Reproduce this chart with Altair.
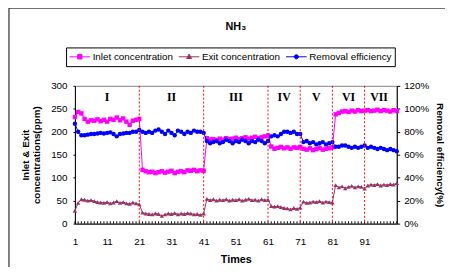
import altair as alt
import pandas as pd

# ---------------- data ----------------
times = list(range(1, 102))

inlet = [232, 243, 240, 228, 222, 225, 224, 227, 223, 226, 222, 228, 226, 231, 225, 229, 222, 215, 224, 226, 228,
         117, 114, 112, 113, 110, 112, 114, 111, 113, 115, 110, 113, 114, 112, 116, 115, 117, 114, 116, 115,
         186, 183, 184, 182, 185, 183, 186, 184, 185, 187, 184, 186, 188, 185, 187, 189, 186, 188, 190, 192,
         168, 163, 165, 167, 164, 166, 163, 166, 165, 167,
         163, 161, 164, 160, 162, 165, 161, 163, 164, 166,
         238, 241, 244, 245, 243, 246, 244, 247, 245, 246,
         247, 245, 246, 248, 245, 247, 246, 244, 247, 245]

exit_conc = [28, 45, 53, 52, 50, 51, 49, 47, 46, 45, 47, 44, 46, 49, 45, 47, 44, 43, 46, 44, 42,
             24, 22, 21, 20, 22, 21, 17, 20, 22, 21, 23, 20, 22, 21, 23, 22, 20, 21, 19, 22,
             54, 51, 53, 50, 52, 51, 53, 50, 52, 51, 53, 50, 52, 54, 51, 52, 50, 53, 51, 52,
             38, 37, 38, 36, 34, 33, 31, 34, 32, 35,
             48, 45, 46, 48, 47, 49, 46, 48, 47, 46,
             84, 79, 81, 77, 80, 82, 79, 81, 80, 76,
             83, 85, 84, 86, 83, 85, 84, 86, 85, 88]

efficiency = [0.87, 0.80, 0.77, 0.77, 0.775, 0.78, 0.78, 0.785, 0.79, 0.785, 0.79, 0.795, 0.78, 0.76, 0.78, 0.785, 0.79, 0.79, 0.80, 0.80, 0.815,
              0.80, 0.79, 0.80, 0.79, 0.81, 0.82, 0.80, 0.78, 0.81, 0.79, 0.77, 0.81, 0.80, 0.78, 0.80, 0.79, 0.81, 0.80, 0.80, 0.79,
              0.72, 0.70, 0.71, 0.72, 0.70, 0.71, 0.73, 0.72, 0.70, 0.72, 0.71, 0.73, 0.72, 0.70, 0.72, 0.71, 0.73, 0.72, 0.70, 0.72,
              0.76, 0.77, 0.76, 0.78, 0.80, 0.80, 0.79, 0.80, 0.78, 0.78,
              0.71, 0.72, 0.70, 0.71, 0.69, 0.70, 0.71, 0.69, 0.70, 0.71,
              0.67, 0.67, 0.68, 0.68, 0.67, 0.66, 0.67, 0.66, 0.67, 0.68,
              0.66, 0.67, 0.66, 0.65, 0.66, 0.65, 0.64, 0.65, 0.64, 0.63]

series_names = ["Inlet concentration", "Exit concentration", "Removal efficiency"]
series_colors = ["#FF00FF", "#993366", "#0000FF"]
series_shapes = ["square", "triangle-up", "circle"]
# legend symbols: a short line with the series marker on it
legend_paths = [
    "M-1,0H1M-0.21,-0.21H0.21V0.21H-0.21Z",
    "M-1,0H1M0,-0.26L0.24,0.17H-0.24Z",
    "M-1,0H1M-0.2,0A0.2,0.2 0 1,0 0.2,0A0.2,0.2 0 1,0 -0.2,0Z",
]

boundaries = [21, 41, 61, 71, 81, 91]
stage_labels = ["I", "II", "III", "IV", "V", "VI", "VII"]
stage_centers = [11, 31, 51, 66, 76, 86, 95.5]

x_label_values = [1, 11, 21, 31, 41, 51, 61, 71, 81, 91]
left_ticks = [0, 50, 100, 150, 200, 250, 300]
right_ticks = [0, 0.2, 0.4, 0.6, 0.8, 1.0, 1.2]

# ---------------- tables ----------------
conc_df = pd.DataFrame({
    "x": times * 2,
    "value": inlet + exit_conc,
    "series": [series_names[0]] * len(times) + [series_names[1]] * len(times),
})
eff_df = pd.DataFrame({
    "x": times,
    "value": efficiency,
    "series": [series_names[2]] * len(times),
})
legend_df = pd.DataFrame({"series": series_names})
bound_df = pd.DataFrame({"x": boundaries})
stage_df = pd.DataFrame({"x": stage_centers, "label": stage_labels})
minor_df = pd.DataFrame({"x": times})
frame_df = pd.DataFrame({"k": [0]})

FONT = "Liberation Sans"
x_scale = alt.Scale(domain=[1, 101], nice=False, zero=False)
yl_scale = alt.Scale(domain=[0, 300], nice=False)
yr_scale = alt.Scale(domain=[0, 1.2], nice=False)
color_scale = alt.Scale(domain=series_names, range=series_colors)

legend = alt.Legend(
    title=None, orient="none", legendX=-9, legendY=-39, direction="horizontal",
    columns=3, symbolSize=441, symbolStrokeWidth=1,
    labelFont=FONT, labelFontSize=10, labelColor="black", labelOffset=2,
    columnPadding=5, padding=3, clipHeight=13, strokeColor="black",
)

x_axis = alt.Axis(values=x_label_values, ticks=False, labelFont=FONT, labelFontSize=10, labelColor="black",
                  labelPadding=13, labelOverlap=False, domainColor="black", title="Times", titleFont=FONT,
                  titleFontSize=11, titleFontWeight="bold", titleColor="black", titlePadding=8, grid=False,
                  labelFlush=False)
yl_axis = alt.Axis(values=left_ticks, tickSize=2, tickColor="black", labelPadding=6, labelFont=FONT,
                   labelFontSize=10, labelColor="black", domainColor="black", grid=False, labelOverlap=False,
                   title=["Inlet & Exit", "concentrations(ppm)"], titleFont=FONT, titleFontSize=10,
                   titleFontWeight="bold", titleColor="black", titlePadding=9, titleLineHeight=11)
yr_axis = alt.Axis(values=right_ticks, format=".0%", orient="right", tickSize=3, tickColor="black",
                   labelPadding=4, labelFont=FONT, labelFontSize=10, labelColor="black", labelOverlap=False,
                   domainColor="black", grid=False, title="Removal efficiency(%)", titleFont=FONT,
                   titleFontSize=10, titleFontWeight="bold", titleColor="black", titlePadding=6)


def xq():
    return alt.X("x:Q", scale=x_scale, axis=x_axis)


def yl():
    return alt.Y("value:Q", scale=yl_scale, axis=yl_axis, title=["Inlet & Exit", "concentrations(ppm)"])


def yr():
    return alt.Y("value:Q", scale=yr_scale, axis=yr_axis, title="Removal efficiency(%)")


# ---------------- left (concentration) group ----------------
frame = alt.Chart(frame_df).mark_rect(fill=None, stroke="black", strokeWidth=1).encode(
    x=alt.value(-67), x2=alt.value(600), y=alt.value(-79), y2=alt.value(600)
)
conc_layers = []
for i in range(2):
    base = alt.Chart(conc_df).transform_filter(alt.datum.series == series_names[i])
    conc_layers.append(base.mark_line(strokeWidth=1, color=series_colors[i]).encode(x=xq(), y=yl()))
    conc_layers.append(base.mark_point(
        filled=True, size=20, opacity=1, strokeWidth=0, shape=series_shapes[i], color=series_colors[i]
    ).encode(x=xq(), y=yl()))
minor_ticks = alt.Chart(minor_df).mark_rule(color="black", strokeWidth=1).encode(
    x=xq(),
    y=alt.YDatum(0, scale=yl_scale, axis=yl_axis, title=["Inlet & Exit", "concentrations(ppm)"]),
    y2=alt.Y2Datum(5),
)
stage_text = alt.Chart(stage_df).mark_text(
    font="Liberation Serif", fontSize=12, fontWeight="bold", color="black", baseline="middle"
).encode(
    x=xq(),
    y=alt.YDatum(275, scale=yl_scale, axis=yl_axis, title=["Inlet & Exit", "concentrations(ppm)"]),
    text="label:N",
)
left_group = alt.layer(frame, *conc_layers, minor_ticks, stage_text)

# ---------------- right (efficiency) group ----------------
eff_line = alt.Chart(eff_df).mark_line(strokeWidth=1, color=series_colors[2]).encode(x=xq(), y=yr())
eff_pts = alt.Chart(eff_df).mark_point(
    filled=True, size=20, opacity=1, strokeWidth=0, shape=series_shapes[2], color=series_colors[2]
).encode(x=xq(), y=yr())
right_group = alt.layer(eff_line, eff_pts)

# ---------------- boundaries + legend carrier ----------------
bound_rules = alt.Chart(bound_df).mark_rule(color="#FF0000", strokeWidth=1, strokeDash=[2, 2]).encode(
    x=xq()
)
legend_layer = alt.Chart(legend_df).mark_point(filled=True, clip=True, strokeWidth=1, opacity=1).encode(
    x=alt.XDatum(-1000, scale=x_scale, axis=x_axis),
    shape=alt.Shape("series:N", scale=alt.Scale(domain=series_names, range=legend_paths), legend=legend),
    fill=alt.Fill("series:N", scale=color_scale, legend=legend),
    stroke=alt.Stroke("series:N", scale=color_scale, legend=legend),
)
top_group = alt.layer(bound_rules, legend_layer)

chart = alt.layer(left_group, right_group, top_group).resolve_scale(y="independent").properties(
    width=327, height=140,
    title=alt.TitleParams("NH\u2083", font=FONT, fontSize=11, fontWeight="bold", color="black",
                          anchor="middle", offset=-25),
    autosize=alt.AutoSizeParams(type="none"),
    padding={"left": 68, "top": 77, "right": 49, "bottom": 42},
).configure_view(stroke="#808080")

chart.save("out.html", embed_options={"renderer": "svg", "actions": False})
